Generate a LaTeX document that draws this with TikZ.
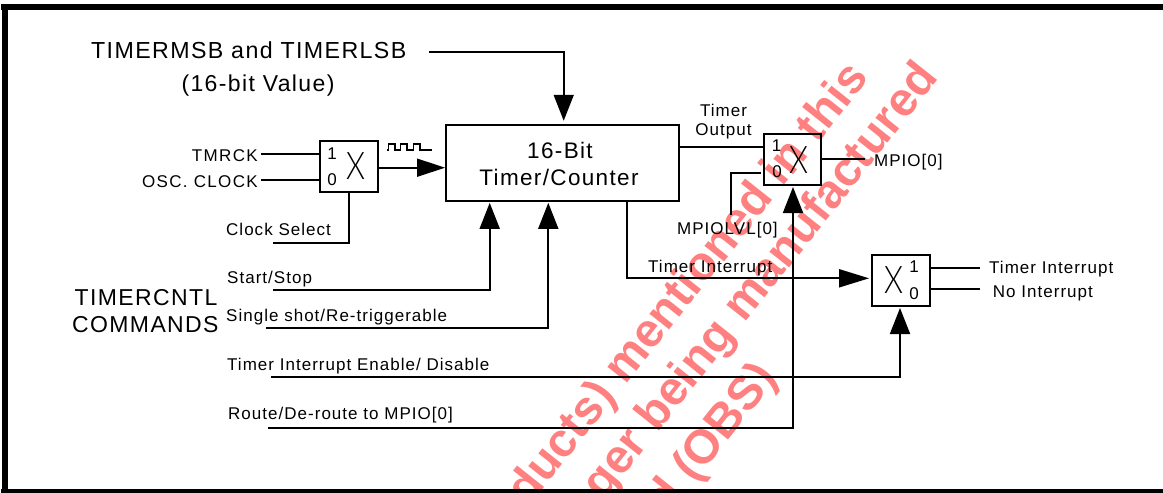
\documentclass[tikz,border=0pt]{standalone}
\usepackage{fontspec}
\usetikzlibrary{arrows.meta}
\setmainfont{Liberation Sans}
\newfontfamily\spf[LetterSpace=6]{Liberation Sans}
\newfontfamily\spw[LetterSpace=8]{Liberation Sans}
\newfontfamily\wmf{Liberation Sans}
\newfontfamily\thinf{Lato Light}
\definecolor{wm}{HTML}{FF8080}
\newcommand{\smf}{\spf\fontsize{17}{19}\selectfont}
\newcommand{\bigf}{\spf\fontsize{23}{26}\selectfont}
\tikzset{
 x=1pt,y=-1pt,
 sig/.style={line width=1.8pt,line join=miter},
 arr/.style={sig,-{Triangle[length=26pt,width=20pt]},shorten >=1pt},
 box/.style={draw,line width=1.8pt,inner sep=0,minimum height=51pt,minimum width=58pt,fill=none},
 lab/.style={inner sep=0,anchor=base west,font=\smf},
 labr/.style={inner sep=0,anchor=base east,font=\smf},
 labc/.style={inner sep=0,anchor=base,font=\smf},
 big/.style={inner sep=0,anchor=base west,font=\bigf},
 xmark/.style={inner sep=0,font=\thinf\fontsize{38}{38}\selectfont,xscale=.8},
 wtxt/.style={inner sep=0,anchor=base east,rotate=51.5,text=wm,font=\wmf\bfseries\fontsize{47.5}{49}\selectfont},
}
\begin{document}
\begin{tikzpicture}
\useasboundingbox (0,0) rectangle (1163,493);
\begin{scope}
\clip (8,10) rectangle (1163,489);
\node[wtxt] (w1) at (870,78) {ducts) mentioned in this};
\node[wtxt] (w2) at (940,78) {ger being manufactured};
\node[wtxt] (w3) at (778,378) {d (OBS)};
\end{scope}
% frame
\fill (1,4) rectangle (1163,10);
\fill (2,4) rectangle (7.5,493);
\fill (1,489) rectangle (1163,493);
% boxes
\node[box,minimum width=232.7pt,minimum height=76.3pt] (timer) at (562.3,162.8) {};
\node[box] (muxa) at (348.7,166.5) {};
\node[box,minimum width=57.3pt] (muxb) at (792.4,159.6) {};
\node[box] (muxc) at (901,280.6) {};
% box text
\node[labc,font=\spf\fontsize{22.5}{25}\selectfont] (t16) at (560,158.7) {16-Bit};
\node[labc,font=\spf\fontsize{22.5}{25}\selectfont] (ttc) at (559,185) {Timer/Counter};
\node[labc] (a1) at (332,159) {1};
\node[labc] (a0) at (332,185) {0};
\node[xmark] (ax) at (355.5,166.5) {X};
\node[labc] (b1) at (776.7,151.7) {1};
\node[labc] (b0) at (777,177.7) {0};
\node[xmark] (bx) at (799,159.7) {X};
\node[labc] (c1) at (914,272.7) {1};
\node[labc] (c0) at (914,299) {0};
\node[xmark] (cx) at (894,280.5) {X};
% labels
\node[big,font=\spf\fontsize{23.2}{26}\selectfont] (ltop) at (91,58) {TIMERMSB and TIMERLSB};
\node[big,anchor=base] (lval) at (258,91) {(16-bit Value)};
\node[labr,font=\spw\fontsize{17}{19}\selectfont] (ltm) at (258,161) {TMRCK};
\node[labr,font=\spw\fontsize{17}{19}\selectfont] (losc) at (258,187) {OSC. CLOCK};
\node[lab] (lcs) at (226,235.5) {Clock Select};
\node[lab] (lss) at (227,283) {Start/Stop};
\node[big] (lcnt) at (74.5,305) {TIMERCNTL};
\node[big] (lcmd) at (72,332) {COMMANDS};
\node[lab] (lsh) at (226,321.7) {Single shot/Re-triggerable};
\node[lab] (len) at (227,370) {Timer Interrupt Enable/ Disable};
\node[lab] (lrt) at (228,419) {Route/De-route to MPIO[0]};
\node[labc] (lt1) at (723.5,116) {Timer};
\node[labc] (lt2) at (723.5,135.7) {Output};
\node[lab] (llv) at (677,234) {MPIOLVL[0]};
\node[lab] (lmp) at (874,166.7) {MPIO[0]};
\node[lab] (lti) at (648,272) {Timer Interrupt};
\node[lab] (lo1) at (989,273) {Timer Interrupt};
\node[lab] (lo0) at (992.7,297) {No Interrupt};
% free ends
\coordinate (p0) at (429,52);
\coordinate (p1) at (563.7,52);
\coordinate (tma) at (261,154);
\coordinate (oca) at (261,180);
\coordinate (mo) at (378,167.7);
\coordinate (csa) at (273,243.3);
\coordinate (csb) at (348.7,243.3);
\coordinate (ssa) at (273,290);
\coordinate (ssb) at (489.7,290);
\coordinate (sha) at (266,328.3);
\coordinate (shb) at (548.3,328.3);
\coordinate (ena) at (271,377.3);
\coordinate (enb) at (900,377.3);
\coordinate (rta) at (268,428.3);
\coordinate (rtb) at (793,428.3);
\coordinate (tia) at (626.7,278.3);
\coordinate (tob) at (680,147.3);
\coordinate (lva) at (731.3,215);
\coordinate (lvb) at (731.3,172.7);
\coordinate (lvc) at (760.7,172.7);
\coordinate (mpe) at (865,159.3);
\coordinate (oa1) at (980,267.7);
\coordinate (oa0) at (980,289.3);
% connectors
\draw[arr,shorten >=3pt] (p0) -- (p1) -- (p1 |- timer.north);
\draw[sig] (tma) -- (tma -| muxa.west);
\draw[sig] (oca) -- (oca -| muxa.west);
\draw[sig,-{Triangle[length=28pt,width=18pt]}] (muxa.east |- mo) -- (timer.west |- mo);
\draw[sig] (csa) -- (csb) -- (csb |- muxa.south);
\draw[arr] (ssa) -- (ssb) -- (ssb |- timer.south);
\draw[arr] (sha) -- (shb) -- (shb |- timer.south);
\draw[arr] (ena) -- (enb) -- (enb |- muxc.south);
\draw[arr] (rta) -- (rtb) -- (rtb |- muxb.south);
\draw[sig,-{Triangle[length=30pt,width=18pt]},shorten >=2pt] (tia |- timer.south) -- (tia) -- (tia -| muxc.west);
\draw[sig] (timer.east |- tob) -- (muxb.west |- tob);
\draw[sig] (lva) -- (lvb) -- (lvc);
\draw[sig] (muxb.east |- mpe) -- (mpe);
\draw[sig] (muxc.east |- oa1) -- (oa1);
\draw[sig] (muxc.east |- oa0) -- (oa0);
% clock waveform
\draw[line width=1.8pt] (387,150) -- (388.5,150) -- (388.5,144) -- (395,144) -- (395,150) -- (400.5,150) -- (400.5,144) -- (407,144) -- (407,150) -- (413.5,150) -- (413.5,144) -- (420,144) -- (420,150) -- (431.7,150);
\end{tikzpicture}
\end{document}
